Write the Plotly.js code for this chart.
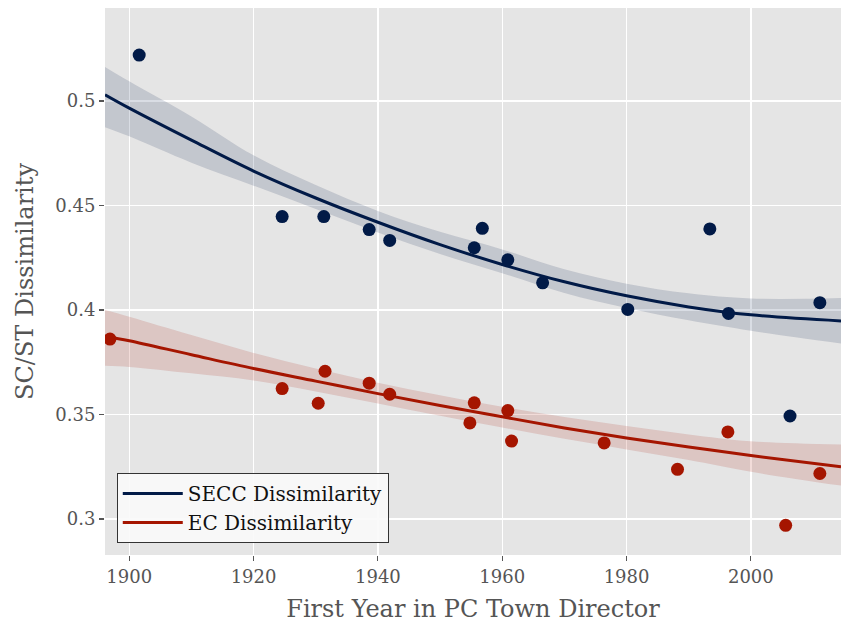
<!DOCTYPE html>
<html>
<head>
<meta charset="utf-8">
<script src="https://cdn.plot.ly/plotly-3.0.1.min.js"></script>
<style>
  html, body { margin: 0; padding: 0; background: #ffffff; }
  #chart { width: 841px; height: 626px; }
</style>
</head>
<body>
<div id="chart"></div>
<script>
// Binned observations: SECC dissimilarity by first year as PC town director
const seccYear = [1901.6, 1924.6, 1931.3, 1938.6, 1941.9, 1955.5, 1956.8, 1960.9, 1966.5, 1980.2, 1993.4, 1996.4, 2006.3, 2011.1];
const seccValue = [0.522, 0.4447, 0.4447, 0.4385, 0.4333, 0.4298, 0.4391, 0.424, 0.413, 0.4003, 0.4388, 0.3984, 0.3493, 0.4035];

// Binned observations: EC dissimilarity
const ecYear = [1896.9, 1924.6, 1930.4, 1931.5, 1938.6, 1941.9, 1954.8, 1955.5, 1960.9, 1961.5, 1976.4, 1988.2, 1996.3, 2005.6, 2011.1];
const ecValue = [0.3861, 0.3624, 0.3554, 0.3707, 0.365, 0.3597, 0.346, 0.3556, 0.3519, 0.3373, 0.3364, 0.3238, 0.3417, 0.297, 0.3218];

// Fitted quadratic trends and their 95% confidence bands
const fitYear  = [1896.1, 1900, 1910, 1920, 1930, 1940, 1950, 1960, 1970, 1980, 1990, 2000, 2014.5];
const seccFit  = [0.503, 0.4966, 0.4813, 0.4665, 0.4536, 0.4420, 0.4313, 0.4218, 0.4135, 0.4068, 0.4015, 0.3977, 0.3948];
const seccHigh = [0.5163, 0.5094, 0.4926, 0.4740, 0.4598, 0.4474, 0.4374, 0.4290, 0.4195, 0.4126, 0.4080, 0.4055, 0.4057];
const seccLow  = [0.4875, 0.4831, 0.4705, 0.4595, 0.4483, 0.4371, 0.4268, 0.4176, 0.4082, 0.4010, 0.3951, 0.3901, 0.3840];
const ecFit    = [0.3875, 0.3853, 0.3786, 0.3720, 0.3660, 0.3600, 0.3543, 0.3489, 0.3436, 0.3388, 0.3345, 0.3304, 0.3250];
const ecHigh   = [0.4000, 0.3968, 0.3880, 0.3795, 0.3720, 0.3652, 0.3592, 0.3537, 0.3488, 0.3445, 0.3405, 0.3372, 0.3357];
const ecLow    = [0.3733, 0.3728, 0.3697, 0.3663, 0.3610, 0.3553, 0.3494, 0.3438, 0.3384, 0.3333, 0.3282, 0.3226, 0.3160];

const xTicks = [1900, 1920, 1940, 1960, 1980, 2000];
const yTicks = [0.3, 0.35, 0.4, 0.45, 0.5];
const yTickText = ['0.3', '0.35', '0.4', '0.45', '0.5'];

const NAVY = '#011a47';
const RED = '#a51500';
const SERIF = 'DejaVu Serif';

function band(x, lo, hi, fillColor) {
  return [
    { x: x, y: lo, type: 'scatter', mode: 'lines', line: { width: 0, shape: 'spline' },
      showlegend: false, hoverinfo: 'skip' },
    { x: x, y: hi, type: 'scatter', mode: 'lines', line: { width: 0, shape: 'spline' },
      fill: 'tonexty', fillcolor: fillColor, showlegend: false, hoverinfo: 'skip' }
  ];
}

const traces = [
  ...band(fitYear, seccLow, seccHigh, 'rgba(1,26,71,0.15)'),
  ...band(fitYear, ecLow, ecHigh, 'rgba(165,21,0,0.15)'),
  { x: fitYear, y: seccFit, type: 'scatter', mode: 'lines', name: 'SECC Dissimilarity',
    line: { color: NAVY, width: 3, shape: 'spline' } },
  { x: fitYear, y: ecFit, type: 'scatter', mode: 'lines', name: 'EC Dissimilarity',
    line: { color: RED, width: 3, shape: 'spline' } },
  { x: seccYear, y: seccValue, type: 'scatter', mode: 'markers', showlegend: false,
    marker: { color: NAVY, size: 13 } },
  { x: ecYear, y: ecValue, type: 'scatter', mode: 'markers', showlegend: false,
    marker: { color: RED, size: 13 } }
];

const layout = {
  width: 841,
  height: 626,
  margin: { l: 105, r: 0, t: 8, b: 71 },
  paper_bgcolor: '#ffffff',
  plot_bgcolor: '#e5e5e5',
  font: { family: SERIF, color: '#555555', size: 18 },
  showlegend: true,
  legend: {
    x: 0.016, y: 0.022, xanchor: 'left', yanchor: 'bottom',
    bgcolor: 'rgba(250,250,250,0.9)', bordercolor: '#333333', borderwidth: 1,
    font: { family: SERIF, size: 20, color: '#111111' },
    itemwidth: 60,
    traceorder: 'normal'
  },
  xaxis: {
    range: [1896.1, 2014.5],
    tickvals: xTicks,
    ticks: 'outside', ticklen: 5, tickwidth: 1.2, tickcolor: '#555555',
    showgrid: true, gridcolor: '#ffffff', gridwidth: 1.3,
    zeroline: false, showline: false,
    tickfont: { family: SERIF, size: 18, color: '#555555' },
    title: { text: 'First Year in PC Town Director', font: { family: SERIF, size: 24, color: '#555555' }, standoff: 14 }
  },
  yaxis: {
    range: [0.2828, 0.5445],
    tickvals: yTicks, ticktext: yTickText,
    ticks: 'outside', ticklen: 5, tickwidth: 1.2, tickcolor: '#555555',
    showgrid: true, gridcolor: '#ffffff', gridwidth: 1.3,
    zeroline: false, showline: false,
    tickfont: { family: SERIF, size: 18, color: '#555555' },
    title: { text: 'SC/ST Dissimilarity', font: { family: SERIF, size: 24, color: '#555555' }, standoff: 14 }
  }
};

Plotly.newPlot('chart', traces, layout, { staticPlot: true, displayModeBar: false });
</script>
</body>
</html>
